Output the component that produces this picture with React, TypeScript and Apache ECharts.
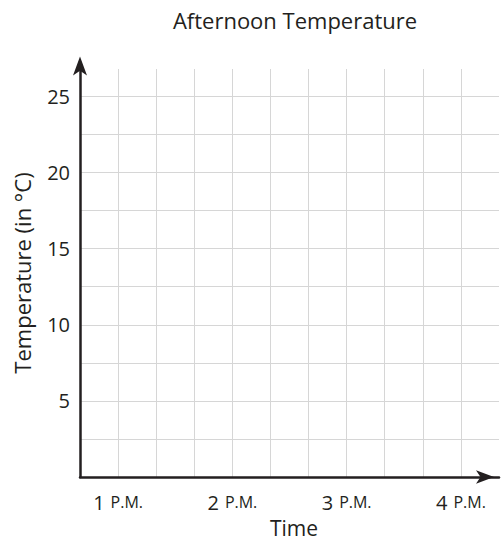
import React, { useEffect, useRef } from "react";
import * as echarts from "echarts";

const titleText = "Afternoon Temperature";
const xAxisName = "Time";
const yAxisName = "Temperature (in °C)";
// x positions in thirds of an hour from the y axis; 1 P.M. sits at 1
const timeTicks = [1, 4, 7, 10];
const timeHours = ["1", "2", "3", "4"];
const yLabelValues = [5, 10, 15, 20, 25];
const temperatures: [number, number][] = [];

const FONT = "'Open Sans', sans-serif";
const INK = "#231f20";
const GRID = "#d6d6d6";

export default function App() {
  const ref = useRef<HTMLDivElement>(null);
  useEffect(() => {
    if (!ref.current) return;
    const chart = echarts.init(ref.current, null, { renderer: "svg" });
    chart.setOption({
      animation: false,
      title: {
        text: titleText,
        left: 290,
        top: 4,
        textAlign: "center",
        textStyle: { fontFamily: FONT, fontSize: 22, fontWeight: "normal", color: INK },
      },
      grid: { left: 80, right: 4, top: 69, bottom: 63, containLabel: false, outerBoundsMode: "none" },
      xAxis: {
        type: "value",
        min: 0,
        max: 11,
        interval: 1,
        name: xAxisName,
        nameLocation: "middle",
        nameGap: 40,
        nameTextStyle: { fontFamily: FONT, fontSize: 21, color: INK, padding: [0, 0, 0, 9] },
        axisLine: {
          show: true,
          onZero: false,
          symbol: ["none", "arrow"],
          symbolSize: [10, 18],
          symbolOffset: [0, -5],
          lineStyle: { color: INK, width: 2.5 },
        },
        axisTick: { show: false },
        axisLabel: {
          margin: 15,
          fontFamily: FONT,
          color: INK,
          formatter: (v: number) => {
            const i = timeTicks.indexOf(v);
            return i >= 0 ? `{n|${timeHours[i]}}{p|P.M.}` : "";
          },
          rich: {
            n: { fontFamily: FONT, fontSize: 20, color: INK, padding: [0, 6, 0, 0] },
            p: { fontFamily: FONT, fontSize: 16, color: INK },
          },
        },
        splitLine: { show: true, showMaxLine: false, lineStyle: { color: GRID, width: 1 } },
      },
      yAxis: {
        type: "value",
        min: 0,
        max: 26.8,
        interval: 2.5,
        name: yAxisName,
        nameLocation: "middle",
        nameGap: 47,
        nameTextStyle: { fontFamily: FONT, fontSize: 22, color: INK },
        axisLine: {
          show: true,
          onZero: false,
          symbol: ["none", "arrow"],
          symbolSize: [10.5, 19],
          symbolOffset: [0, 12.5],
          lineStyle: { color: INK, width: 2.5 },
        },
        axisTick: { show: false },
        axisLabel: {
          margin: 10,
          fontFamily: FONT,
          fontSize: 20,
          color: INK,
          formatter: (v: number) => (yLabelValues.indexOf(v) >= 0 ? String(v) : ""),
        },
        splitLine: { show: true, showMaxLine: false, lineStyle: { color: GRID, width: 1 } },
      },
      series: [
        {
          type: "line",
          data: temperatures,
          symbol: "none",
        },
      ],
    });
    return () => chart.dispose();
  }, []);
  return <div ref={ref} style={{ width: 503, height: 540, position: "absolute", left: 0, top: 0 }} />;
}
